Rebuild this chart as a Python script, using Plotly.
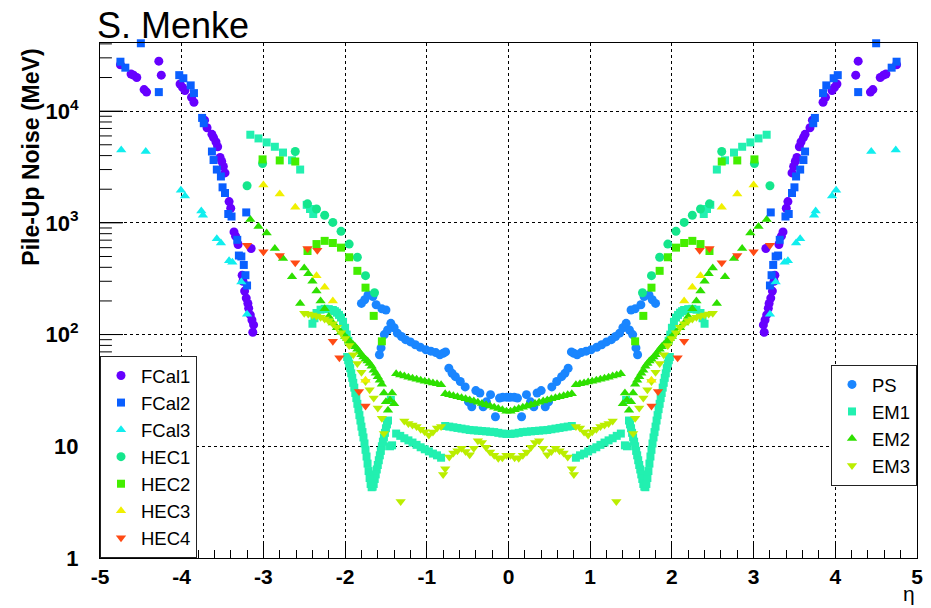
import math
import plotly.graph_objects as go

# ---------------- data (positive-eta half; the chart is symmetric in eta) ----------------
FCAL1_ETA = [3.13, 3.12, 3.14, 3.16, 3.18, 3.19, 3.21, 3.23, 3.25, 3.26, 3.31, 3.34, 3.36, 3.15,
             3.40, 3.42, 3.47, 3.49, 3.51, 3.53, 3.56, 3.58, 3.61, 3.63, 3.69, 3.72, 3.85, 3.88,
             3.96, 3.99, 4.02, 4.25, 4.28, 4.43, 4.46, 4.55, 4.59, 4.62, 4.75]
FCAL1_VAL = [105, 122, 135, 150, 172, 190, 212, 245, 300, 340, 640, 760, 830, 590,
             1350, 1550, 2800, 3200, 3550, 3850, 4800, 5300, 5800, 6200, 7100, 8300, 12000, 13300,
             15300, 16300, 17500, 21000, 28000, 14800, 15600, 20000, 21000, 21500, 26000]

FCAL2_ETA = [3.20, 3.22, 3.24, 3.27, 3.30, 3.32, 3.39, 3.43, 3.47, 3.50, 3.52, 3.57, 3.61, 3.63,
             3.73, 3.75, 3.21, 3.85, 3.89, 3.98, 4.03, 4.28, 4.50, 4.69, 4.75]
FCAL2_VAL = [275, 340, 420, 500, 510, 705, 1140, 1200, 1850, 2080, 2600, 3000, 3650, 4350,
             7800, 8700, 1240, 14500, 17000, 19700, 21000, 14800, 40500, 24500, 27700]

FCAL3_ETA = [3.20, 3.27, 3.38, 3.42, 3.52, 3.57, 3.74, 3.76, 3.96, 4.01, 4.44, 4.74]
FCAL3_VAL = [152, 295, 445, 457, 660, 720, 1170, 1280, 1740, 1960, 4350, 4500]

HEC1_ETA = [1.64, 1.75, 1.85, 1.95, 2.05, 2.15, 2.25, 2.35, 2.46, 2.61, 3.01, 3.20]
HEC1_VAL = [237, 337, 492, 646, 840, 1010, 1170, 1330, 1480, 4350, 3400, 2150]

HEC2_ETA = [1.55, 1.65, 1.75, 1.85, 1.95, 2.05, 2.15, 2.25, 2.35, 2.46, 2.61, 2.80, 3.01]
HEC2_VAL = [87, 147, 263, 372, 492, 600, 660, 690, 646, 560, 3540, 3620, 3700]

HEC3_ETA = [1.75, 2.15, 2.25, 2.35, 2.61, 2.80, 3.00]
HEC3_VAL = [39, 200, 265, 337, 1380, 1810, 2180]

HEC4_ETA = [1.75, 1.83, 2.07, 2.15, 2.34, 2.46, 2.61, 2.80, 3.00, 3.20]
HEC4_VAL = [23, 31, 62, 87, 570, 590, 440, 510, 550, 630]

PS_ETA = [0.02, 0.07, 0.11, 0.16, 0.22, 0.27, 0.31, 0.35, 0.40, 0.45, 0.49, 0.53, 0.59, 0.65,
          0.69, 0.73, 0.77, 0.80, 0.84, 0.89, 0.95, 1.01, 1.08, 1.14, 1.20, 1.26, 1.31, 1.36,
          1.40, 1.44, 1.48, 1.52, 1.56, 1.58, 1.50, 1.55, 1.62, 1.66, 1.72, 1.76, 1.80]
PS_VAL = [27.5, 27.5, 27.0, 18.4, 29.0, 25.0, 22.6, 30.0, 31.5, 22.6, 25.0, 34.0, 38.0, 42.0,
          45.0, 50.0, 70.0, 68.0, 66.0, 69.0, 71.0, 73.0, 77.0, 81.0, 86.0, 90.0, 96.0, 103.0,
          115.0, 126.0, 110.0, 100.0, 76.0, 66.0, 166.0, 170.0, 185.0, 219.0, 226.0, 205.0, 190.0]

EM1_ETA = [0.025, 0.075, 0.125, 0.175, 0.225, 0.275, 0.325, 0.375, 0.425, 0.475, 0.525, 0.575,
           0.625, 0.675, 0.725, 0.775,
           0.825, 0.875, 0.925, 0.975, 1.025, 1.075, 1.125, 1.175, 1.225, 1.275, 1.325, 1.375,
           1.425, 1.45, 1.44,
           1.475, 1.4875, 1.5, 1.5125, 1.525, 1.5375, 1.55, 1.5625, 1.575, 1.5875, 1.6, 1.6125,
           1.625, 1.6375, 1.65, 1.6625, 1.675, 1.6875, 1.7, 1.7125, 1.725, 1.7375, 1.75, 1.7625,
           1.775, 1.7875, 1.8, 1.8125, 1.825, 1.8375, 1.85, 1.8625, 1.875, 1.8875, 1.9, 1.9125,
           1.925, 1.9375, 1.95, 1.9625, 1.975,
           1.96, 1.98, 2.0, 2.025, 2.05, 2.075, 2.1, 2.125, 2.15, 2.2, 2.25, 2.3, 2.35, 2.375, 2.4,
           2.39, 2.43, 2.47, 2.55, 2.65, 2.76, 2.86, 2.96, 3.06, 3.16]
EM1_VAL = [12.9, 13.0, 13.2, 13.4, 13.5, 13.6, 13.7, 13.8, 13.9, 14.0, 14.2, 14.4,
           14.6, 14.8, 15.0, 15.2,
           7.9, 8.3, 8.6, 9.0, 9.4, 9.8, 10.3, 10.8, 11.3, 11.8, 12.4, 13.0,
           10.2, 10.0, 26.0,
           17.0, 15.7, 14.5, 13.2, 12.0, 11.0, 10.0, 9.1, 8.3, 7.5, 6.8, 6.2,
           5.6, 5.1, 4.6, 4.35, 4.3, 4.6, 5.2, 6.0, 7.0, 8.1, 9.3, 10.6,
           12.0, 13.4, 15.0, 17.0, 19.0, 21.5, 24.0, 27.0, 30.0, 33.5, 37.0, 41.0,
           45.0, 50.0, 55.0, 59.0, 63.0,
           88, 100, 115, 130, 142, 150, 157, 162, 166, 169, 170, 167, 156, 140, 125,
           1200, 1330, 1450, 3000, 3630, 4260, 4800, 5250, 5700, 6150]

EM2_ETA = [0.025, 0.075, 0.125, 0.175, 0.225, 0.275, 0.325, 0.375, 0.425, 0.475, 0.525, 0.575,
           0.625, 0.675, 0.725, 0.775,
           0.825, 0.875, 0.925, 0.975, 1.025, 1.075, 1.125, 1.175, 1.225, 1.275, 1.325, 1.375,
           1.40, 1.425, 1.45, 1.475, 1.5, 1.525, 1.55, 1.575, 1.6, 1.625, 1.65, 1.675, 1.7,
           1.725, 1.75, 1.775, 1.8, 1.825, 1.85, 1.875, 1.9, 1.925, 1.95, 1.975, 2.0, 2.05,
           2.1, 2.15, 2.2, 2.25, 2.3, 2.35, 2.4, 2.45, 2.5,
           2.55, 2.65, 2.76, 2.86, 2.96, 3.06, 3.16]
EM2_VAL = [20.6, 21.2, 21.8, 22.4, 23.0, 23.6, 24.2, 24.8, 25.4, 26.0, 26.6, 27.2,
           27.8, 28.4, 29.0, 29.6,
           35.5, 36.2, 36.9, 37.6, 38.3, 39.0, 39.8, 40.6, 41.5, 42.5, 43.5, 44.6,
           24, 30, 26, 21, 25, 30, 36, 39, 42, 45, 48, 52, 55,
           58, 60, 63, 66, 70, 74, 78, 81, 84, 88, 92, 96, 105,
           115, 127, 145, 170, 200, 245, 300, 350, 395,
           190, 330, 480, 590, 810, 930, 1070]

EM3_ETA = [0.025, 0.075, 0.125, 0.175, 0.225, 0.275, 0.325, 0.375, 0.425, 0.475, 0.525, 0.575,
           0.625, 0.675, 0.725, 0.775, 0.80,
           0.825, 0.875, 0.925, 0.975, 1.025, 1.075, 1.125, 1.175, 1.225, 1.275,
           1.32,
           1.525, 1.55, 1.6, 1.65, 1.7, 1.75, 1.8, 1.85, 1.9, 1.95, 2.0, 2.05, 2.1, 2.15, 2.2,
           2.25, 2.3, 2.35, 2.4, 2.45, 2.5]
EM3_VAL = [8.3, 7.9, 7.8, 8.3, 8.9, 9.8, 10.8, 11.2, 9.6, 8.4, 9.0, 9.6,
           9.1, 8.7, 8.0, 6.3, 5.6,
           15.0, 14.6, 13.4, 12.6, 13.5, 14.2, 15.0, 15.5, 16.0, 16.8,
           3.2,
           13, 17.8, 22, 27, 32, 38, 46, 55, 66, 80, 92, 104, 116, 125, 132,
           138, 143, 147, 150, 153, 155]

X_TICKS = [-5, -4, -3, -2, -1, 0, 1, 2, 3, 4, 5]
X_TICKTEXT = ["-5", "-4", "-3", "-2", "-1", "0", "1", "2", "3", "4", "5"]
Y_TICKS = [1, 10, 100, 1000, 10000]
Y_TICKTEXT = ["1", "10", "10<sup>2</sup>", "10<sup>3</sup>", "10<sup>4</sup>"]
Y_MINOR = [m * d for d in (1, 10, 100, 1000, 10000) for m in range(2, 10)]
Y_RANGE = [0, 4.61]


def both_sides(eta, val):
    return [-e for e in eta] + list(eta), list(val) + list(val)


SERIES = [
    # name, eta, val, symbol, colour, size, legend
    ("PS", PS_ETA, PS_VAL, "circle", "#1a86ff", 9, "legend2"),
    ("EM1", EM1_ETA, EM1_VAL, "square", "#22f0b0", 8, "legend2"),
    ("EM2", EM2_ETA, EM2_VAL, "triangle-up", "#2ee000", 9, "legend2"),
    ("EM3", EM3_ETA, EM3_VAL, "triangle-down", "#bbee00", 9, "legend2"),
    ("FCal1", FCAL1_ETA, FCAL1_VAL, "circle", "#6600ff", 9, "legend"),
    ("FCal2", FCAL2_ETA, FCAL2_VAL, "square", "#0a5fff", 8, "legend"),
    ("FCal3", FCAL3_ETA, FCAL3_VAL, "triangle-up", "#11eeee", 9, "legend"),
    ("HEC1", HEC1_ETA, HEC1_VAL, "circle", "#14e68c", 9, "legend"),
    ("HEC2", HEC2_ETA, HEC2_VAL, "square", "#44ee00", 8, "legend"),
    ("HEC3", HEC3_ETA, HEC3_VAL, "triangle-up", "#f0f000", 9, "legend"),
    ("HEC4", HEC4_ETA, HEC4_VAL, "triangle-down", "#ff4a14", 9, "legend"),
]

fig = go.Figure()
for name, eta, val, sym, col, size, leg in SERIES:
    x, y = both_sides(eta, val)
    fig.add_trace(go.Scatter(
        x=x, y=y, mode="markers", name=name, legend=leg, cliponaxis=False,
        marker=dict(symbol=sym, color=col, size=size, line=dict(width=0)),
    ))

FONT = "Liberation Sans, Arial, sans-serif"
PLOT_W = 931 - 100 - 8


def y_frac(v):
    """fraction of the plot height for a value on the log axis"""
    return (math.log10(v) - Y_RANGE[0]) / (Y_RANGE[1] - Y_RANGE[0])


# y-axis tick marks (ROOT style: drawn inside the frame on the left edge)
tick_shapes = []
for v in Y_MINOR:
    if y_frac(v) <= 1:
        tick_shapes.append(dict(type="line", xref="paper", yref="paper",
                                x0=0, x1=12 / PLOT_W, y0=y_frac(v), y1=y_frac(v),
                                line=dict(color="black", width=1)))
for v in Y_TICKS[1:]:
    tick_shapes.append(dict(type="line", xref="paper", yref="paper",
                            x0=0, x1=23 / PLOT_W, y0=y_frac(v), y1=y_frac(v),
                            line=dict(color="black", width=1)))

fig.update_layout(
    width=931, height=608,
    margin=dict(l=100, r=8, t=43, b=50),
    paper_bgcolor="white", plot_bgcolor="white",
    font=dict(family=FONT, color="black"),
    xaxis=dict(
        range=[-5, 5], tickvals=X_TICKS, ticktext=X_TICKTEXT,
        ticks="inside", ticklen=17, tickcolor="black", tickwidth=1,
        minor=dict(ticks="inside", ticklen=8, dtick=0.2, tickcolor="black", showgrid=False),
        showgrid=True, gridcolor="black", gridwidth=1, griddash="3px,3px",
        showline=True, linecolor="black", linewidth=1, mirror=True, zeroline=False,
        tickfont=dict(family=FONT, size=21, color="black", weight="bold"),
        ticklabelstandoff=0,
    ),
    yaxis=dict(
        type="log", range=Y_RANGE, tickvals=Y_TICKS, ticktext=Y_TICKTEXT,
        ticks="inside", ticklen=23, tickcolor="black", tickwidth=1,
        showgrid=True, gridcolor="black", gridwidth=1, griddash="3px,3px",
        showline=True, linecolor="black", linewidth=1, mirror=True, zeroline=False,
        tickfont=dict(family=FONT, size=22, color="black", weight="bold"),
        ticklabelstandoff=16,
    ),
    shapes=tick_shapes,
    legend=dict(
        x=0, y=0, xanchor="left", yanchor="bottom",
        bgcolor="white", bordercolor="#222", borderwidth=1,
        font=dict(family=FONT, size=18.5, color="black"),
        tracegroupgap=0, itemsizing="trace",
    ),
    legend2=dict(
        x=1, y=0.375, xanchor="right", yanchor="top",
        bgcolor="white", bordercolor="#222", borderwidth=1,
        font=dict(family=FONT, size=18.5, color="black"),
        tracegroupgap=0, itemsizing="trace",
    ),
    annotations=[
        dict(text="S. Menke", xref="paper", yref="paper", x=-0.006, y=1.034,
             xanchor="left", yanchor="middle", showarrow=False,
             font=dict(family=FONT, size=36, color="black")),
        dict(text="Pile-Up Noise (MeV)", xref="paper", yref="paper", x=-0.084, y=0.778,
             xanchor="center", yanchor="middle", textangle=-90, showarrow=False,
             font=dict(family=FONT, size=23, color="black", weight="bold")),
        dict(text="η", xref="paper", yref="paper", x=0.99, y=-0.0699,
             xanchor="center", yanchor="middle", showarrow=False,
             font=dict(family=FONT, size=21, color="black")),
    ],
)

fig.write_html("out.html")
